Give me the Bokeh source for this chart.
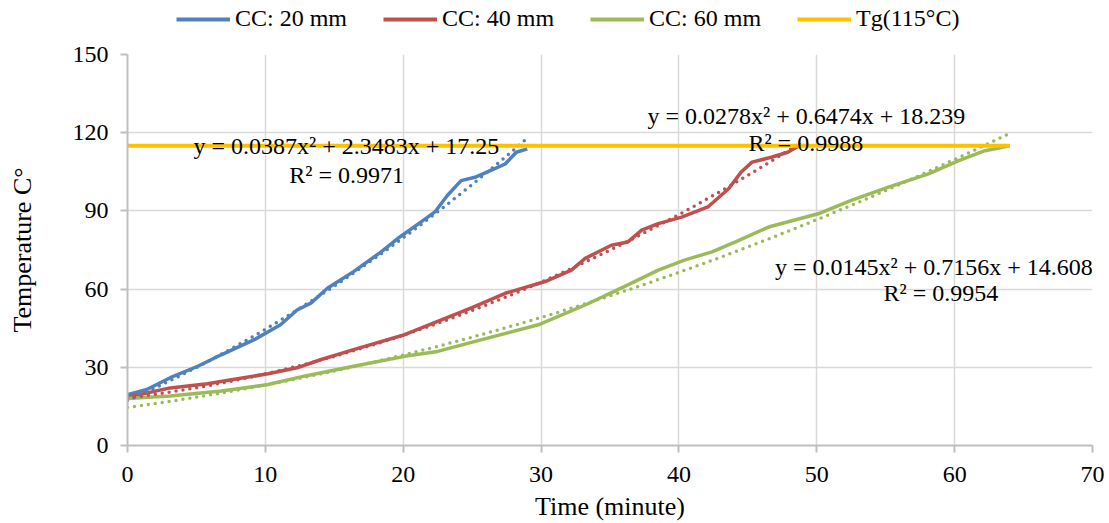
import numpy as np
from bokeh.plotting import figure
from bokeh.layouts import column
from bokeh.models import Legend, LegendItem, Label, FixedTicker, Range1d
from bokeh.embed import file_html
from bokeh.resources import INLINE

# ---------------- data ----------------
time_20 = [0, 1.4, 3.1, 5.1, 6.8, 9.2, 11.1, 12.3, 13.3, 14.5, 16.4, 18.4, 19.6,
           21.3, 22.3, 23.2, 24.2, 25.2, 26.6, 27.4, 28.2, 29.0]
temp_20 = [19.5, 21.5, 26.0, 30.4, 34.8, 40.6, 46.3, 52.0, 54.6, 60.3, 66.7, 74.3, 79.4,
           85.8, 89.6, 95.9, 101.6, 102.9, 106.1, 108.0, 112.5, 113.8]

time_40 = [0, 3.1, 5.8, 7.2, 10.2, 12.3, 14.0, 16.4, 20.1, 22.5, 24.9, 27.4, 30.3, 32.2,
           33.2, 35.1, 36.3, 37.3, 38.5, 40.2, 42.1, 43.6, 44.5, 45.3, 46.7, 47.9, 48.9]
temp_40 = [18.5, 22.1, 23.7, 24.9, 27.5, 29.8, 32.9, 36.8, 42.5, 47.6, 52.7, 58.4, 62.9, 67.3,
           71.8, 76.8, 78.1, 82.6, 85.1, 87.6, 91.5, 98.5, 104.8, 108.7, 110.6, 112.5, 115.6]

time_60 = [0, 3.1, 6.8, 10.2, 12.8, 16.4, 20.1, 22.5, 25.7, 29.8, 33.2, 36.3, 38.5, 40.4,
           42.4, 44.1, 46.5, 50.1, 52.5, 55.2, 58.1, 60.3, 62.2, 64.0]
temp_60 = [18.0, 19.0, 20.9, 23.4, 26.6, 30.4, 34.2, 36.1, 40.6, 46.3, 53.9, 61.6, 67.3, 71.1,
           74.3, 78.1, 83.8, 88.9, 94.0, 99.1, 104.2, 109.3, 113.1, 115.0]

tg_time = [0, 64]
tg_temp = [115, 115]

# polynomial trendline coefficients shown on the chart (a, b, c) and R²
trend_20 = [0.0387, 2.3483, 17.25]
trend_40 = [0.0278, 0.6474, 18.239]
trend_60 = [0.0145, 0.7156, 14.608]
r2_20, r2_40, r2_60 = "0.9971", "0.9988", "0.9954"

series_names = ["CC: 20 mm", "CC: 40 mm", "CC: 60 mm", "Tg(115°C)"]
x_ticks = [0, 10, 20, 30, 40, 50, 60, 70]
y_ticks = [0, 30, 60, 90, 120, 150]

# ---------------- styling ----------------
FONT = "Liberation Serif"
C_BLUE, C_RED, C_GREEN, C_TG = "#4F81BD", "#C0504D", "#9BBB59", "#FFC000"
COLORS = [C_BLUE, C_RED, C_GREEN, C_TG]

# ---- legend strip (own small figure above the chart; frames are aligned) ----
leg_fig = figure(width=1109, height=40, output_backend="svg", toolbar_location=None,
                 x_axis_location=None, y_axis_location=None,
                 x_range=Range1d(0, 1), y_range=Range1d(0, 1),
                 min_border_left=0, min_border_right=0, min_border_top=0, min_border_bottom=0)
leg_fig.outline_line_color = None
leg_fig.xgrid.visible = False
leg_fig.ygrid.visible = False
nan = float("nan")
leg_renderers = [leg_fig.line([nan], [nan], line_color=c, line_width=4) for c in COLORS]
legend = Legend(items=[LegendItem(label=n, renderers=[r]) for n, r in zip(series_names, leg_renderers)],
                orientation="horizontal", location=(49, 8))
legend.padding = 0
legend.margin = 0
legend.spacing = 36
legend.label_standoff = 5
legend.glyph_width = 54
legend.glyph_height = 20
legend.label_text_font = FONT
legend.label_text_font_size = "24px"
legend.label_text_color = "black"
legend.border_line_color = None
legend.background_fill_alpha = 0
leg_fig.add_layout(legend, "center")

# ---- main chart ----
p = figure(width=1109, height=483, output_backend="svg", toolbar_location=None,
           x_range=Range1d(0, 70), y_range=Range1d(0, 150),
           min_border_left=127, min_border_right=17, min_border_top=14, min_border_bottom=75)
p.outline_line_color = None
p.background_fill_color = "white"

for ax in (p.xaxis[0], p.yaxis[0]):
    ax.axis_line_color = "#bfbfbf"
    ax.axis_line_width = 2
    ax.major_tick_line_color = "#bfbfbf"
    ax.major_tick_line_width = 2
    ax.major_tick_out = 7
    ax.major_tick_in = 0
    ax.minor_tick_line_color = None
    ax.major_label_text_font = FONT
    ax.major_label_text_font_size = "24px"
    ax.major_label_text_color = "black"
    ax.axis_label_text_font = FONT
    ax.axis_label_text_font_size = "26px"
    ax.axis_label_text_font_style = "normal"
    ax.axis_label_text_color = "black"

p.xaxis.ticker = FixedTicker(ticks=x_ticks)
p.yaxis.ticker = FixedTicker(ticks=y_ticks)
p.xaxis.axis_label = "Time (minute)"
p.yaxis.axis_label = "Temperature C°"
p.xaxis.major_label_standoff = 14
p.xaxis.axis_label_standoff = 7
p.yaxis.major_label_standoff = 12
p.yaxis.axis_label_standoff = 33

p.xgrid.grid_line_color = "#d9d9d9"
p.ygrid.grid_line_color = "#d9d9d9"
p.xgrid.grid_line_width = 1.5
p.ygrid.grid_line_width = 1.5

# data lines
p.line(time_20, temp_20, line_color=C_BLUE, line_width=3.5, line_join="round")
p.line(time_40, temp_40, line_color=C_RED, line_width=3.5, line_join="round")
p.line(time_60, temp_60, line_color=C_GREEN, line_width=3.5, line_join="round")

# trendlines from the displayed polynomial coefficients
def trend(coefs, x_end):
    xs = np.linspace(0, x_end, 200)
    a, b, c = coefs
    return xs, a * xs ** 2 + b * xs + c

for coefs, xs_data, col in ((trend_20, time_20, C_BLUE), (trend_40, time_40, C_RED),
                            (trend_60, time_60, C_GREEN)):
    tx, ty = trend(coefs, xs_data[-1])
    p.line(tx, ty, line_color=col, line_width=3.5, line_dash="0 7", line_cap="round")

p.line(tg_time, tg_temp, line_color=C_TG, line_width=4)

# equation labels
def eq_text(c):
    return f"y = {c[0]}x² + {c[1]}x + {c[2]}"

labels = [
    (eq_text(trend_20), 15.88, 115.0), (f"R² = {r2_20}", 15.9, 103.9),
    (eq_text(trend_40), 49.25, 126.4), (f"R² = {r2_40}", 49.2, 116.2),
    (eq_text(trend_60), 58.5, 68.4), (f"R² = {r2_60}", 59.0, 58.6),
]
for txt, lx, ly in labels:
    p.add_layout(Label(x=lx, y=ly, text=txt, text_font=FONT, text_font_size="24px",
                       text_align="center", text_baseline="alphabetic", text_color="black"))

layout = column(leg_fig, p, spacing=0)
open("out.html", "w").write(file_html(layout, INLINE))
